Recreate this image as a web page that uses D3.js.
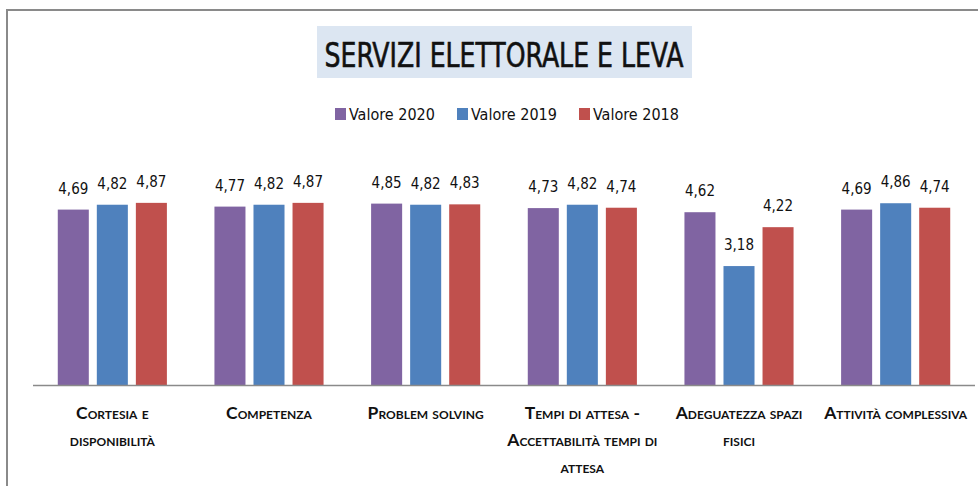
<!DOCTYPE html>
<html>
<head>
<meta charset="utf-8">
<script src="https://cdn.jsdelivr.net/npm/d3@7"></script>
<style>
  body { margin: 0; background: #fff; }
  svg { display: block; }
</style>
</head>
<body>
<div id="chart"></div>
<script>
// Data
const categories = ["Cortesia e disponibilità", "Competenza", "Problem solving",
  "Tempi di attesa - Accettabilità tempi di attesa", "Adeguatezza spazi fisici", "Attività complessiva"];
// label lines as they wrap in the original
const categoryLines = [
  ["Cortesia e", "disponibilità"],
  ["Competenza"],
  ["Problem solving"],
  ["Tempi di attesa -", "Accettabilità tempi di", "attesa"],
  ["Adeguatezza spazi", "fisici"],
  ["Attività complessiva"]
];
const seriesNames = ["Valore 2020", "Valore 2019", "Valore 2018"];
const valori2020 = [4.69, 4.77, 4.85, 4.73, 4.62, 4.69];
const valori2019 = [4.82, 4.82, 4.82, 4.82, 3.18, 4.86];
const valori2018 = [4.87, 4.87, 4.83, 4.74, 4.22, 4.74];
const seriesValues = [valori2020, valori2019, valori2018];
const colors = ["#8064A2", "#4F81BD", "#C0504D"];

const W = 978, H = 486;
const svg = d3.select("#chart").append("svg")
  .attr("width", W)
  .attr("height", H);

// outer frame (only top and left visible)
svg.append("path")
  .attr("d", `M7,${H} L7,10 L${W},10`)
  .attr("fill", "none")
  .attr("stroke", "#8a8a8a")
  .attr("stroke-width", 2);

// Title
svg.append("rect")
  .attr("x", 317).attr("y", 26)
  .attr("width", 375).attr("height", 52)
  .attr("fill", "#DCE6F2");
svg.append("text")
  .attr("x", 504).attr("y", 67)
  .attr("text-anchor", "middle")
  .attr("font-family", "DejaVu Sans Condensed, DejaVu Sans")
  .attr("font-size", 34)
  .attr("textLength", 359)
  .attr("lengthAdjust", "spacingAndGlyphs")
  .attr("stroke", "#111")
  .attr("stroke-width", 0.6)
  .attr("fill", "#111")
  .text("SERVIZI ELETTORALE  E LEVA");

// Legend
const legendX = [335, 457, 579];
const legend = svg.append("g");
seriesNames.forEach((s, i) => {
  const g = legend.append("g").attr("transform", `translate(${legendX[i]}, 0)`);
  g.append("rect")
    .attr("x", 0).attr("y", 108)
    .attr("width", 11).attr("height", 12)
    .attr("fill", colors[i]);
  g.append("text")
    .attr("x", 14).attr("y", 120)
    .attr("font-family", "DejaVu Sans Condensed, DejaVu Sans")
    .attr("font-size", 16)
    .attr("fill", "#111")
    .text(s);
});

// Scales
const x0 = d3.scaleBand()
  .domain(categories)
  .range([34, 974])
  .paddingInner(0.3035)
  .paddingOuter(0.15175);
const x1 = d3.scaleBand()
  .domain(seriesNames)
  .range([0, x0.bandwidth()])
  .paddingInner(8 / 39);
const y = d3.scaleLinear()
  .domain([0, 5])
  .range([385, 198]);

// Bars
const groups = svg.append("g")
  .selectAll("g")
  .data(categories)
  .join("g")
  .attr("transform", d => `translate(${x0(d)}, 0)`);

const barData = (c, ci) => seriesNames.map((s, si) => ({ s, si, v: seriesValues[si][ci] }));

groups.selectAll("rect")
  .data((c, ci) => barData(c, ci))
  .join("rect")
  .attr("x", d => x1(d.s))
  .attr("y", d => y(d.v))
  .attr("width", x1.bandwidth())
  .attr("height", d => y(0) - y(d.v))
  .attr("fill", d => colors[d.si]);

groups.selectAll("text.val")
  .data((c, ci) => barData(c, ci))
  .join("text")
  .attr("class", "val")
  .attr("x", d => x1(d.s) + x1.bandwidth() / 2)
  .attr("y", d => y(d.v) - 16)
  .attr("text-anchor", "middle")
  .attr("font-family", "DejaVu Sans Condensed, DejaVu Sans")
  .attr("font-size", 15)
  .attr("fill", "#111")
  .text(d => d.v.toFixed(2).replace(".", ","));

// X axis (line only, labels added below)
const xAxis = svg.append("g")
  .attr("transform", `translate(0, ${y(0)})`)
  .call(d3.axisBottom(x0).tickSize(0).tickFormat(""));
xAxis.select(".domain")
  .attr("stroke", "#8a8a8a")
  .attr("stroke-width", 1.5)
  .attr("d", "M33,0.5H975");

xAxis.selectAll(".tick text").remove();
xAxis.selectAll(".tick").each(function(d, i) {
  const t = d3.select(this).append("text")
    .attr("text-anchor", "middle")
    .attr("font-family", "Lato, Open Sans, sans-serif")
    .attr("font-weight", "bold")
    .attr("font-size", 17.5)
    .style("font-variant", "small-caps")
    .attr("fill", "#111");
  categoryLines[i].forEach((line, li) => {
    t.append("tspan")
      .attr("x", 0)
      .attr("y", 34 + li * 27)
      .text(line);
  });
});
</script>
</body>
</html>
